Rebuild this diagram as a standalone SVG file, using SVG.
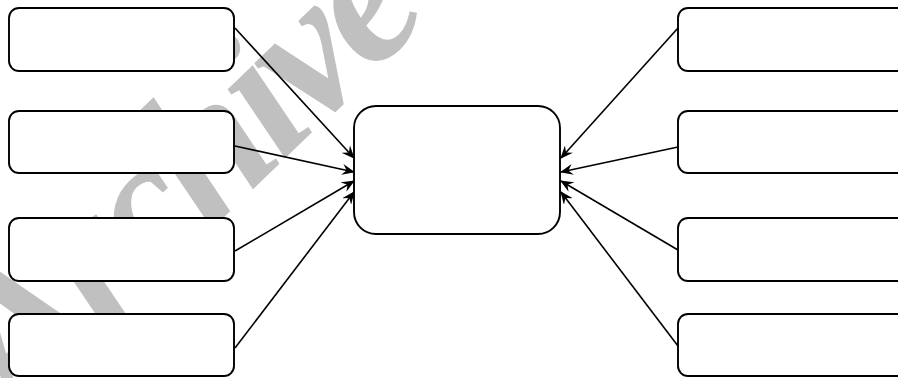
<svg xmlns="http://www.w3.org/2000/svg" width="898" height="378" viewBox="0 0 898 378">
<style>
.wm{font-family:"Liberation Serif","Times New Roman",serif;font-weight:bold;font-style:italic;fill:#c0c0c0}
.box{fill:#fff;stroke:#000;stroke-width:1.9}
.con{stroke:#000;stroke-width:1.6;fill:none;marker-end:url(#arr)}
</style>
<defs>
<marker id="arr" viewBox="0 0 13 11" refX="12" refY="5.5" markerWidth="13" markerHeight="11" markerUnits="userSpaceOnUse" orient="auto">
<path d="M0,0 L13,5.5 L0,11 L4.5,5.5 z" fill="#000"/>
</marker>
</defs>
<rect width="898" height="378" fill="#fff"/>
<text class="wm" x="0" y="0" font-size="195" letter-spacing="-8" transform="translate(16,418) rotate(-44)">Archive</text>
<g id="connectors">
<line class="con" x1="235" y1="28" x2="354" y2="158"/>
<line class="con" x1="235" y1="146" x2="354" y2="172"/>
<line class="con" x1="235" y1="251" x2="354" y2="181"/>
<line class="con" x1="235" y1="348" x2="354" y2="192"/>
<line class="con" x1="678" y1="28" x2="561" y2="158"/>
<line class="con" x1="678" y1="147" x2="561" y2="172"/>
<line class="con" x1="678" y1="250" x2="561" y2="181"/>
<line class="con" x1="678" y1="346" x2="561" y2="192"/>
</g>
<g id="left1"><rect class="box" x="9" y="8" width="225" height="63" rx="10"/></g>
<g id="left2"><rect class="box" x="9" y="111" width="225" height="62" rx="10"/></g>
<g id="left3"><rect class="box" x="9" y="218" width="225" height="63" rx="10"/></g>
<g id="left4"><rect class="box" x="9" y="314" width="225" height="62" rx="10"/></g>
<g id="center"><rect class="box" x="354" y="106" width="206" height="128" rx="22"/></g>
<g id="right1"><rect class="box" x="678" y="8" width="230" height="63" rx="10"/></g>
<g id="right2"><rect class="box" x="678" y="111" width="230" height="62" rx="10"/></g>
<g id="right3"><rect class="box" x="678" y="218" width="230" height="63" rx="10"/></g>
<g id="right4"><rect class="box" x="678" y="314" width="230" height="62" rx="10"/></g>
</svg>
